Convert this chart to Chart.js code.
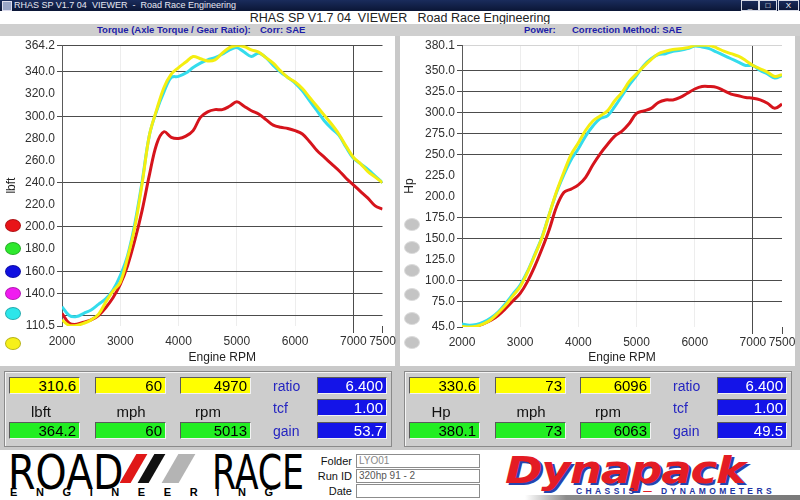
<!DOCTYPE html>
<html>
<head>
<meta charset="utf-8">
<title>RHAS SP Viewer</title>
<script src="https://cdn.jsdelivr.net/npm/chart.js@4.4.1/dist/chart.umd.min.js"></script>
<style>
    body { margin: 0; width: 800px; height: 500px; overflow: hidden; position: relative;
           background: #c9c9c9; font-family: "Liberation Sans", Arial, sans-serif; }
    .abs { position: absolute; }
    #titlebar { left: 0; top: 0; width: 800px; height: 11px; background: linear-gradient(#1a2c5c, #0b1636);
                color: #e6e8f2; font-size: 9px; line-height: 11px; }
    #titlebar .icon { left: 2px; top: 1px; width: 8px; height: 8px; background: #9aa6c8; border: 1px solid #dde; }
    #titlebar .txt { left: 14px; top: 0; white-space: pre; }
    .winbtn { top: 0; height: 9px; border: 1px solid #d8dbe6; color: #fff; font-size: 8px; line-height: 9px; text-align: center; }
    #header { left: 0; top: 11px; width: 800px; height: 13px; background: #fff; color: #222;
              font-size: 12.5px; line-height: 14px; text-align: center; white-space: pre; }
    #subhdr { left: 0; top: 24px; width: 800px; height: 12px; background: #cfcfcf; }
    .blue-lbl { top: 24px; color: #1c1ca8; font-size: 9.5px; font-weight: bold; line-height: 12px; white-space: nowrap; }
    .panel { top: 36px; height: 330px; background: #fff; }
    .chartbox { top: 36px; height: 330px; width: 400px; }
    .dot { width: 16px; height: 13px; border-radius: 50%; box-sizing: border-box; }
    .readout { top: 371px; width: 388px; height: 76px; background: #cdcdcd; box-sizing: border-box;
               border: 1px solid #8a8a8a; box-shadow: inset 1px 1px 0 #f4f4f4; }
    .box { height: 17px; box-sizing: border-box; font-size: 15px; line-height: 16px; text-align: right;
           padding-right: 3px; border-top: 1px solid #5a5a5a; border-left: 1px solid #5a5a5a;
           border-bottom: 1px solid #f2f2f2; border-right: 1px solid #f2f2f2; }
    .unit { font-size: 15px; color: #111; text-align: center; width: 60px; }
    .side { font-size: 14px; color: #2424c0; }
    #footer { left: 0; top: 450px; width: 800px; height: 50px; background: #fff; }
    .logo { font-family: "Liberation Sans Narrow", "DejaVu Sans Condensed", sans-serif; font-size: 44px;
            line-height: 40px; color: #000; transform-origin: left top; }
    .slash { top: 454px; width: 11px; height: 29px; transform: skewX(-30deg); }
    .fld-lbl { width: 50px; text-align: right; font-size: 11px; color: #111; }
    .fld { left: 356px; width: 124px; height: 14px; box-sizing: border-box; background: #fff;
           border: 1px solid #8c8c8c; font-size: 10px; line-height: 12px; color: #888; padding-left: 2px; }
</style>
</head>
<body>
<div id="titlebar" class="abs">
    <div class="abs icon"></div>
    <div class="abs txt">RHAS SP V1.7 04  VIEWER  -  Road Race Engineering</div>
    <div class="abs winbtn" style="left:741px;width:16px;">_</div>
    <div class="abs winbtn" style="left:759px;width:16px;">&#9633;</div>
    <div class="abs winbtn" style="left:778px;width:19px;">X</div>
</div>
<div id="header" class="abs">RHAS SP V1.7 04  VIEWER   Road Race Engineering</div>
<div id="subhdr" class="abs"></div>
<div class="abs blue-lbl" style="left:97px;">Torque (Axle Torque / Gear Ratio):</div>
<div class="abs blue-lbl" style="left:260px;">Corr: SAE</div>
<div class="abs blue-lbl" style="left:524px;">Power:</div>
<div class="abs blue-lbl" style="left:572px;">Correction Method: SAE</div>

<div class="abs panel" style="left:0;width:395px;"></div>
<div class="abs panel" style="left:400px;width:395px;"></div>
<div class="abs chartbox" style="left:0;"><canvas id="torque-chart" width="400" height="330"></canvas></div>
<div class="abs chartbox" style="left:400px;"><canvas id="power-chart" width="400" height="330"></canvas></div>
<div id="legend-dots"></div>

<div class="abs readout" style="left:4px;"></div>
<div class="abs readout" style="left:404px;"></div>
<div id="readouts"></div>

<div id="footer" class="abs"></div>
<div class="abs logo" style="left:8px;top:451px;transform:scaleY(1.08);">ROAD</div>
<div class="abs slash" style="left:128px;background:#e01818;"></div>
<div class="abs slash" style="left:146px;background:#111;"></div>
<div class="abs slash" style="left:170px;width:17px;background:#b4b4b4;"></div>
<div class="abs logo" style="left:212px;top:451px;transform:scale(0.88,1.08);">RACE</div>
<div class="abs" style="left:10px;top:486px;font-size:11px;font-weight:bold;letter-spacing:18.6px;white-space:nowrap;">ENGINEERING</div>
<div class="abs fld-lbl" style="left:302px;top:455px;">Folder</div>
<div class="abs fld-lbl" style="left:302px;top:470px;">Run ID</div>
<div class="abs fld-lbl" style="left:302px;top:485px;">Date</div>
<div class="abs fld" style="top:454px;">LYO01</div>
<div class="abs fld" style="top:469px;color:#555;">320hp 91 - 2</div>
<div class="abs fld" style="top:484px;"></div>
<div class="abs" style="left:505px;top:450px;font-family:'DejaVu Sans';font-weight:bold;font-style:italic;font-size:38px;line-height:40px;color:#e41c24;text-shadow:2px 2px 0 #2444b0;letter-spacing:-1px;transform:scaleX(1.19);transform-origin:left top;">Dynapack</div>
<div class="abs" style="left:576px;top:486px;font-size:8.5px;font-weight:bold;color:#1c34a4;letter-spacing:3.4px;white-space:nowrap;">CHASSIS <span style="color:#e41c24;">&mdash;</span> DYNAMOMETERS</div>
<div class="abs" style="left:525px;top:495px;width:275px;height:5px;background:linear-gradient(to right,#fff,#8c8c8c 15%,#7a7a7a);"></div>

<script>
const RPM = [2000, 2125, 2250, 2375, 2500, 2625, 2750, 2875, 3000, 3125, 3250, 3375, 3500, 3625, 3750,
             3875, 4000, 4125, 4250, 4375, 4500, 4625, 4750, 4875, 5000, 5125, 5250, 5375, 5500, 5625,
             5750, 5875, 6000, 6125, 6250, 6375, 6500, 6625, 6750, 6875, 7000, 7125, 7250, 7375, 7500];

const TORQUE_RED = [122, 113, 112, 114, 116, 120, 127, 136, 148, 165, 188, 215, 247, 275, 286,
                    281, 280, 282, 287, 299, 304, 306, 306, 309, 313, 309, 305, 302, 297, 292,
                    290, 289, 287, 284, 277, 269, 263, 257, 251, 244, 238, 232, 226, 219, 216];
const TORQUE_CYAN = [128, 120, 119, 122, 125, 130, 135, 143, 156, 174, 203, 241, 283, 305, 322,
                     335, 336, 339, 344, 348, 351, 353, 356, 360, 362, 358, 354, 357, 353, 346,
                     340, 335, 330, 323, 314, 305, 296, 289, 283, 272, 262, 257, 252, 246, 240];
const TORQUE_YELLOW = [116, 111, 111, 113, 116, 121, 132, 142, 150, 172, 200, 239, 283, 306, 326,
                       338, 344, 349, 354, 352, 350, 351, 357, 362, 364, 363, 360, 358, 353, 348,
                       341, 335, 331, 325, 317, 309, 301, 293, 284, 273, 263, 257, 250, 245, 240];

const POWER_RED = [47, 45.5, 46, 49, 53, 59, 67, 76, 85, 99, 117, 138, 161, 188, 205,
                   209, 214, 223, 238, 251, 262, 272, 278, 287, 299, 302, 305, 312, 315, 315,
                   318, 323, 328, 331, 331, 330, 326, 322, 320, 318, 317, 315, 311, 305, 310];
const POWER_CYAN = [48.5, 47, 48, 51, 56, 63, 73, 84, 95, 111, 131, 152, 179, 205, 226,
                    244, 257, 272, 284, 293, 296, 307, 320, 333, 344, 356, 364, 369, 370, 373,
                    374, 376, 379, 378, 376, 372, 368, 364, 360, 356, 356, 350, 346, 341, 344];
const POWER_YELLOW = [45.5, 45, 46, 49, 54, 62, 71, 82, 93, 110, 130, 151, 179, 206, 229,
                      250, 264, 279, 290, 296, 302, 314, 324, 337, 346, 355, 363, 370, 373, 375,
                      376, 377, 380, 380, 380, 377, 373, 370, 367, 362, 356, 352, 348, 343, 345];

const RPM_TICKS = [2000, 3000, 4000, 5000, 6000, 7000, 7500];
const TORQUE_TICKS = [110.5, 120, 140, 160, 180, 200, 220, 240, 260, 280, 300, 320, 340, 364.2];
const TORQUE_GRID = [120, 140, 160, 200, 240, 300, 340, 364.2];
const POWER_TICKS = [45, 75, 100, 125, 150, 175, 200, 225, 250, 275, 300, 325, 350, 380.1];
const POWER_GRID = [75, 100, 150, 175, 250, 275, 300, 325, 350];

const LEGEND_COLORS = ['#e81418', '#2ee82e', '#1010e0', '#f01cf0', '#2ce6ea', '#f6f01a'];
const LEGEND_Y = [225, 248, 271, 293, 313, 343];
const GRAY_LEGEND_Y = [224, 247, 270, 294, 318, 342];

// readouts: cursor row (yellow), peak row (green), side boxes
const TORQUE_CURSOR = ['310.6', '60', '4970'];
const TORQUE_PEAK = ['364.2', '60', '5013'];
const POWER_CURSOR = ['330.6', '73', '6096'];
const POWER_PEAK = ['380.1', '73', '6063'];
const TORQUE_SIDE = ['6.400', '1.00', '53.7'];
const POWER_SIDE = ['6.400', '1.00', '49.5'];

const LINE_RED = '#d6141c';
const LINE_CYAN = '#34dcec';
const LINE_YELLOW = '#f4ee10';
const GRID_DARK = '#4c4c4c';
const NONE = 'rgba(0,0,0,0)';

function series(values, color) {
    return {
        data: RPM.map((r, i) => ({ x: r, y: values[i] })),
        borderColor: color,
        borderWidth: 3,
        pointRadius: 0,
        tension: 0.35,
        fill: false
    };
}

function buildChart(canvasId, cfg) {
    const tickFont = { family: 'Liberation Sans', size: 12 };
    return new Chart(document.getElementById(canvasId), {
        type: 'line',
        data: {
            datasets: [
                series(cfg.yellow, LINE_YELLOW),
                series(cfg.cyan, LINE_CYAN),
                series(cfg.red, LINE_RED)
            ]
        },
        options: {
            responsive: false,
            animation: false,
            layout: { padding: { left: 0, right: cfg.padRight, top: 9, bottom: 0 } },
            plugins: { legend: { display: false }, tooltip: { enabled: false } },
            scales: {
                x: {
                    type: 'linear',
                    min: 2000,
                    max: 7500,
                    afterBuildTicks: s => { s.ticks = RPM_TICKS.map(v => ({ value: v })); },
                    afterFit: s => { s.height = cfg.xHeight; },
                    ticks: { autoSkip: false, maxRotation: 0, padding: 1, color: '#303030', font: tickFont,
                             callback: v => String(v) },
                    grid: {
                        tickLength: 7,
                        color: c => {
                            const v = c.tick ? c.tick.value : 0;
                            if (v === 7000) return GRID_DARK;
                            return (v > 2000 && v < 7000) ? '#ededed' : NONE;
                        },
                        tickColor: c => (c.tick && c.tick.value >= 7000) ? GRID_DARK : NONE
                    },
                    border: { display: false },
                    title: { display: true, text: 'Engine RPM', color: '#222',
                             font: { family: 'Liberation Sans', size: 12 }, padding: { top: 0, bottom: 1 } }
                },
                y: {
                    min: cfg.min,
                    max: cfg.max,
                    afterBuildTicks: s => { s.ticks = cfg.ticks.map(v => ({ value: v })); },
                    afterFit: s => { s.width = 62; },
                    ticks: { autoSkip: false, padding: 2, color: '#303030', font: tickFont,
                             callback: v => cfg.hidden.includes(v) ? '' : v.toFixed(1) },
                    grid: {
                        tickLength: 5,
                        color: c => {
                            const v = c.tick ? c.tick.value : 0;
                            if (cfg.grid.includes(v)) return GRID_DARK;
                            return v === cfg.max ? cfg.topColor : NONE;
                        },
                        tickColor: c => {
                            const v = c.tick ? c.tick.value : 0;
                            return (cfg.dash.includes(v)) ? GRID_DARK : NONE;
                        }
                    },
                    border: { display: true, color: '#5a5a5a' },
                    title: { display: true, text: cfg.unit, color: '#222',
                             font: { family: 'Liberation Sans', size: 12 }, padding: { top: cfg.titlePad, bottom: 0 } }
                }
            }
        }
    });
}

function drawLegendDots() {
    let html = '';
    LEGEND_COLORS.forEach((c, i) => {
        html += `<div class="abs dot" style="left:5px;top:${LEGEND_Y[i] - 6}px;background:${c};border:1px solid rgba(0,0,0,0.25);"></div>`;
    });
    GRAY_LEGEND_Y.forEach(y => {
        html += `<div class="abs dot" style="left:404px;top:${y - 6}px;background:#c4c4c4;border:1px solid #dcdcdc;"></div>`;
    });
    document.getElementById('legend-dots').innerHTML = html;
}

function drawReadouts() {
    const boxX = [9, 95, 180];
    const unitX = [11, 101, 178];
    let html = '';
    [[0, 'lbft', TORQUE_CURSOR, TORQUE_PEAK, TORQUE_SIDE], [400, 'Hp', POWER_CURSOR, POWER_PEAK, POWER_SIDE]]
        .forEach(([dx, unit, cur, peak, side]) => {
            boxX.forEach((x, i) => {
                html += `<div class="abs box" style="left:${x + dx}px;top:377px;width:71px;background:#ffff00;">${cur[i]}</div>`;
                html += `<div class="abs box" style="left:${x + dx}px;top:422px;width:71px;background:#22ee22;">${peak[i]}</div>`;
            });
            [unit, 'mph', 'rpm'].forEach((u, i) => {
                html += `<div class="abs unit" style="left:${unitX[i] + dx}px;top:403px;">${u}</div>`;
            });
            ['ratio', 'tcf', 'gain'].forEach((s, i) => {
                const top = [377, 399, 422][i];
                html += `<div class="abs side" style="left:${273 + dx}px;top:${top + 1}px;">${s}</div>`;
                html += `<div class="abs box" style="left:${317 + dx}px;top:${top}px;width:70px;background:#1414e8;color:#fff;">${side[i]}</div>`;
            });
        });
    document.getElementById('readouts').innerHTML = html;
}

window.onload = () => {
    buildChart('torque-chart', {
        red: TORQUE_RED, cyan: TORQUE_CYAN, yellow: TORQUE_YELLOW,
        min: 110.5, max: 364.2, ticks: TORQUE_TICKS, grid: TORQUE_GRID,
        dash: [110.5, 140, 160, 200, 240, 300, 340, 364.2], hidden: [120],
        topColor: GRID_DARK, unit: 'lbft', titlePad: 4, padRight: 17.5, xHeight: 40
    });
    buildChart('power-chart', {
        red: POWER_RED, cyan: POWER_CYAN, yellow: POWER_YELLOW,
        min: 45, max: 380.1, ticks: POWER_TICKS, grid: POWER_GRID,
        dash: [45, 75, 100, 150, 175, 250, 275, 300, 325, 350, 380.1], hidden: [],
        topColor: '#d4d4d4', unit: 'Hp', titlePad: 2, padRight: 18, xHeight: 39
    });
    drawLegendDots();
    drawReadouts();
};
</script>
</body>
</html>
